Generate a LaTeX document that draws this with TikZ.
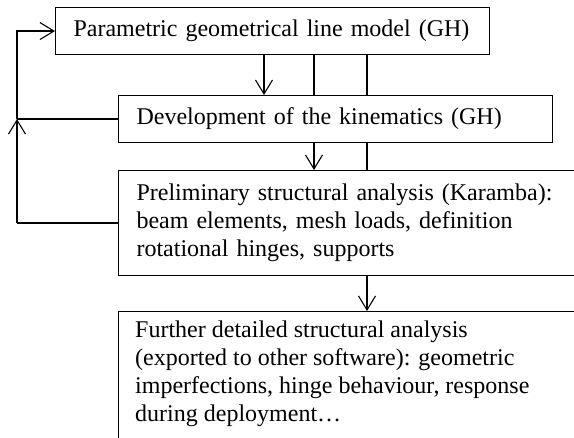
\documentclass[tikz,border=0pt]{standalone}
\usepackage{fontspec}
\setmainfont{Liberation Serif}
\usetikzlibrary{arrows.meta,calc}
\begin{document}
\begin{tikzpicture}[x=1pt,y=-1pt,
  font=\fontsize{24}{28}\selectfont,
  flowbox/.style={draw=black, line width=1.1pt, rectangle, anchor=north west,
    align=left, inner xsep=18pt, inner ysep=0pt},
  plainbox/.style={draw=black, line width=1.1pt, rectangle, anchor=north west, inner sep=0pt},
  txt/.style={anchor=north west, align=left, inner sep=0pt},
  link/.style={draw=black, line width=1.1pt},
  arr/.style={link, -{Straight Barb[length=14pt,width=17pt]}}]
\useasboundingbox (0,0) rectangle (574,438);
\clip (0,0) rectangle (574,438);
\fill[white] (0,0) rectangle (574,438);

\node[flowbox, minimum width=434pt, minimum height=47pt, text width=398pt] (b1) at (55,7)
  {Parametric geometrical line model (GH)};
\node[flowbox, minimum width=434pt, minimum height=47pt, text width=398pt] (b2) at (118,95)
  {Development of the kinematics (GH)};
\node[flowbox, minimum width=482pt, minimum height=105pt, text width=446pt, inner xsep=17pt] (b3) at (118,170)
  {Preliminary structural analysis (Karamba):\\beam elements, mesh loads, definition\\rotational hinges, supports};
\node[plainbox, minimum width=482pt, minimum height=170pt] (b4) at (118,311) {};
\node[txt] (t4) at ([xshift=17pt,yshift=-9.8pt]b4.north west)
  {Further detailed structural analysis\\(exported to other software): geometric\\imperfections, hinge behaviour, response\\during deployment\dots};

\coordinate (cA) at (264,0);
\coordinate (cB) at (314,0);
\coordinate (cC) at (367,0);
\coordinate (cL) at (17,0);

\draw[arr] (b1.south -| cA) -- (b2.north -| cA);
\draw[link] (b1.south -| cB) -- (b2.north -| cB);
\draw[link] (b1.south -| cC) -- (b2.north -| cC);
\draw[arr] (b2.south -| cB) -- (b3.north -| cB);
\draw[link] (b2.south -| cC) -- (b3.north -| cC);
\draw[arr] (b3.south -| cC) -- (b4.north -| cC);

\draw[link] (b3.west) -- (cL |- b3.west);
\draw[arr] (cL |- b3.west) -- (cL |- b2.west);
\draw[link] (b2.west) -- (cL |- b2.west);
\draw[arr] (cL |- b2.west) -- (cL |- b1.west) -- (b1.west);
\end{tikzpicture}
\end{document}
